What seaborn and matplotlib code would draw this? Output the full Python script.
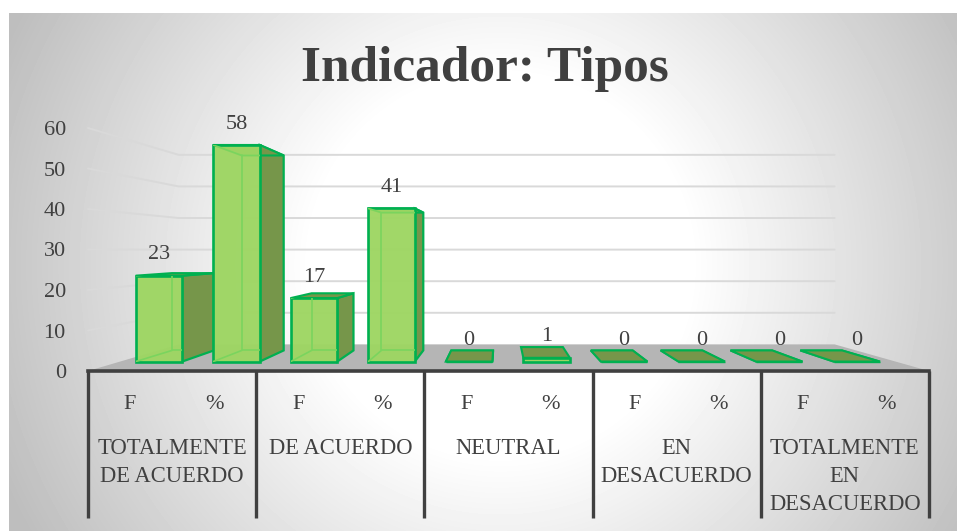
import numpy as np
import pandas as pd
import matplotlib
matplotlib.use('Agg')
import matplotlib.pyplot as plt
from matplotlib.patches import Polygon
from matplotlib.transforms import Affine2D
import seaborn as sns

# datos
grupos = ["TOTALMENTE\nDE ACUERDO", "DE ACUERDO", "NEUTRAL", "EN\nDESACUERDO", "TOTALMENTE\nEN\nDESACUERDO"]
medidas = ["F", "%"]
valores_f = [23, 17, 0, 0, 0]
valores_pct = [58, 41, 1, 0, 0]
y_ticks = [0, 10, 20, 30, 40, 50, 60]
titulo = "Indicador: Tipos"

W, H = 957, 531
TXT = "#404040"

sns.set_theme(style="white")
plt.rcParams['font.family'] = ['Liberation Serif', 'DejaVu Serif']

filas = []
for g, f, p in zip(grupos, valores_f, valores_pct):
    filas.append({"clave": g + " F", "valor": f})
    filas.append({"clave": g + " %", "valor": p})
df = pd.DataFrame(filas)

fig = plt.figure(figsize=(W / 100, H / 100), dpi=100, facecolor="white")

# fondo con degradado radial
bg = fig.add_axes([9 / W, 0, 1 - 9 / W, 1 - 13 / H], zorder=0)
yy, xx = np.mgrid[13:H, 9:W]
d = np.hypot(xx - 500, yy - 265)
grad = 255 - 65 * np.clip((d - 190) / 350, 0, 1)
bg.imshow(grad, cmap="gray", vmin=0, vmax=255, aspect="auto")
bg.axis("off")

# el plano de los ejes va de x=88 a x=929, y=371 (0) a y=128 (60)
ax = fig.add_axes([88 / W, 1 - 371 / H, (929 - 88) / W, 243 / H], zorder=1)
ax.patch.set_alpha(0)
sns.barplot(data=df, x="clave", y="valor", ax=ax, width=0.6, color="#92d050", saturation=1, zorder=5)
ax.set_xlim(-0.5, 9.5)
ax.set_ylim(0, 60)

# punto de fuga en coordenadas de datos
px_x = 841 / 10
px_y = 243 / 60
VX = (500 - 88) / px_x - 0.5
VY = (371 - 250) / px_y
K_FRENTE = 0.078
K_FONDO = 0.17
K_PARED = 0.22


def persp(x, y, k):
    return (x + k * (VX - x), y + k * (VY - y))


# suelo y paredes
suelo = [persp(-0.5, 0, 0), persp(-0.5, 0, K_PARED), persp(9.5, 0, K_PARED), persp(9.5, 0, 0)]
ax.add_patch(Polygon(suelo, closed=True, fc="#b5b5b5", ec="none", zorder=1, clip_on=False))
for t in y_ticks[1:]:
    ptos = [persp(-0.5, t, 0), persp(-0.5, t, K_PARED), persp(9.5, t, K_PARED)]
    ax.plot(*zip(*ptos), color="#d9d9d9", lw=1.4, zorder=2, clip_on=False)

# caras en 3D de cada barra, sacadas de los rectangulos de seaborn
VERDE = "#00b050"
INTERIOR = "#7ad45e"
capa = 6
rects = list(ax.patches)[:len(df)]
for i, r in enumerate(rects):
    x0, w, h = r.get_x(), r.get_width(), r.get_height()
    x1 = x0 + w
    fa = lambda x, y: persp(x, y, K_FRENTE)
    fo = lambda x, y: persp(x, y, K_FONDO)
    # base
    if h == 0:
        ax.add_patch(Polygon([fa(x0, 0), fa(x1, 0), fo(x1, 0), fo(x0, 0)], fc="#7d9b48", ec=VERDE,
                             lw=1.3, zorder=capa + 1, clip_on=False))
    # lateral
    if VX > x1:
        ax.add_patch(Polygon([fa(x1, 0), fo(x1, 0), fo(x1, h), fa(x1, h)], fc="#76964a", ec=VERDE,
                             lw=1.6, zorder=capa + 1, clip_on=False))
    # tapa
    ax.add_patch(Polygon([fa(x0, h), fa(x1, h), fo(x1, h), fo(x0, h)], fc="#76964a", ec=VERDE,
                         lw=1.5, zorder=capa + 1, clip_on=False))
    # frente, el rectangulo de la barra llevado a su plano
    trans = Affine2D().scale(1 - K_FRENTE).translate(K_FRENTE * VX, K_FRENTE * VY) + ax.transData
    r.set_transform(trans)
    r.set_facecolor((0.62, 0.84, 0.39, 0.97))
    r.set_edgecolor(VERDE)
    r.set_linewidth(1.9 if h > 0 else 1.0)
    r.set_zorder(capa + 2)
    r.set_clip_on(False)
    # aristas de atras, vistas a traves del frente
    if h > 1:
        xd = fa(x1, 0)[0]
        for seg in ([fo(x0, h), fo(x0, 0), (xd, fo(x0, 0)[1])],
                    [fa(x0, 0), fo(x0, 0)],
                    [fa(x0, h), fo(x0, h), (xd, fo(x0, h)[1])]):
            lin, = ax.plot(*zip(*seg), color=INTERIOR, lw=1.2, zorder=capa + 2.5)
            lin.set_clip_path(r)
    xe, ye = fa(x0 + w / 2, h)
    ax.annotate(str(int(h)), (xe, ye), xytext=(0, 15), textcoords="offset points", ha="center", va="center",
                fontsize=16, color=TXT, zorder=40, annotation_clip=False)
    capa += 3

# ejes
for s in ["top", "left", "right"]:
    ax.spines[s].set_visible(False)
ax.spines["bottom"].set_color(TXT)
ax.spines["bottom"].set_linewidth(2.6)
ax.spines["bottom"].set_zorder(30)
ax.set_xlabel("")
ax.set_ylabel("")
ax.set_yticks(y_ticks)
ax.set_yticklabels([str(t) for t in y_ticks], fontsize=16, color=TXT)
ax.tick_params(axis="y", length=0, pad=16)
ax.set_xticks(range(len(df)))
ax.set_xticklabels(medidas * len(grupos), fontsize=16, color=TXT)
ax.tick_params(axis="x", length=0, pad=17)

# separadores y nombres de grupo
trans_x = ax.get_xaxis_transform()
for j in range(len(grupos) + 1):
    ax.plot([2 * j - 0.5] * 2, [0, -147 / 243], color=TXT, lw=2.4, transform=trans_x, clip_on=False,
            solid_capstyle="butt", zorder=30)
for j, g in enumerate(grupos):
    ax.text(2 * j + 0.5, -67 / 243, g, transform=trans_x, ha="center", va="top", fontsize=16.3, color=TXT,
            linespacing=1.44)

fig.text(485 / W, 1 - 69 / H, titulo, ha="center", va="center", fontsize=37, fontweight="bold", color=TXT)

fig.savefig("out.png", dpi=100)
plt.close(fig)
